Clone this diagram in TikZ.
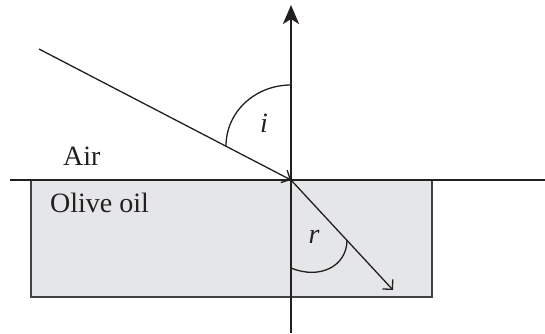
\documentclass[tikz,border=0pt]{standalone}
\usepackage{fontspec}
\setmainfont{Liberation Serif}
\usetikzlibrary{arrows.meta}
\definecolor{ink}{HTML}{231F20}
\definecolor{oil}{HTML}{E5E6E7}
\tikzset{
  ray/.style={draw=ink, line width=1.3pt, -{Straight Barb[length=7pt,width=14pt,line width=1.3pt]}},
  anglearc/.style={draw=ink, line width=1.3pt},
  lbl/.style={font=\fontsize{28}{30}\selectfont, text=ink, inner sep=0pt, anchor=base},
}
\begin{document}
\begin{tikzpicture}[x=1pt,y=-1pt]
\useasboundingbox (0,0) rectangle (545,333);
\coordinate (O) at (291,180);
\coordinate (top) at (291,5);
\coordinate (bot) at (291,333);
\coordinate (src) at (39,49);
\coordinate (dst) at (393,290);
\coordinate (il) at (10,180);
\coordinate (ir) at (545,180);
% oil block
\draw[fill=oil, draw=ink!85, line width=1.2pt] (31,180) rectangle (432,297);
% interface
\draw[ink, line width=2.8pt] (il) -- (ir);
% normal
\draw[ink, line width=2.2pt, -{Stealth[length=19pt,width=16pt,inset=5pt]}] (bot) -- (top);
% rays
\draw[ray] (src) -- (O);
\draw[ray] (O) -- (dst);
% angle arcs
\draw[anglearc] (226,146) .. controls (226,112) and (255,85) .. (291,85);
\draw[anglearc] (291,268) .. controls (320,280) and (347,266) .. (347,240);
% labels
\node[lbl, anchor=base west] (air) at (63,165) {Air};
\node[lbl, anchor=base west] (olive) at (50,212) {Olive oil};
\node[lbl] (i) at (264,132) {\itshape i};
\node[lbl] (r) at (314,243) {\itshape r};
\end{tikzpicture}
\end{document}
